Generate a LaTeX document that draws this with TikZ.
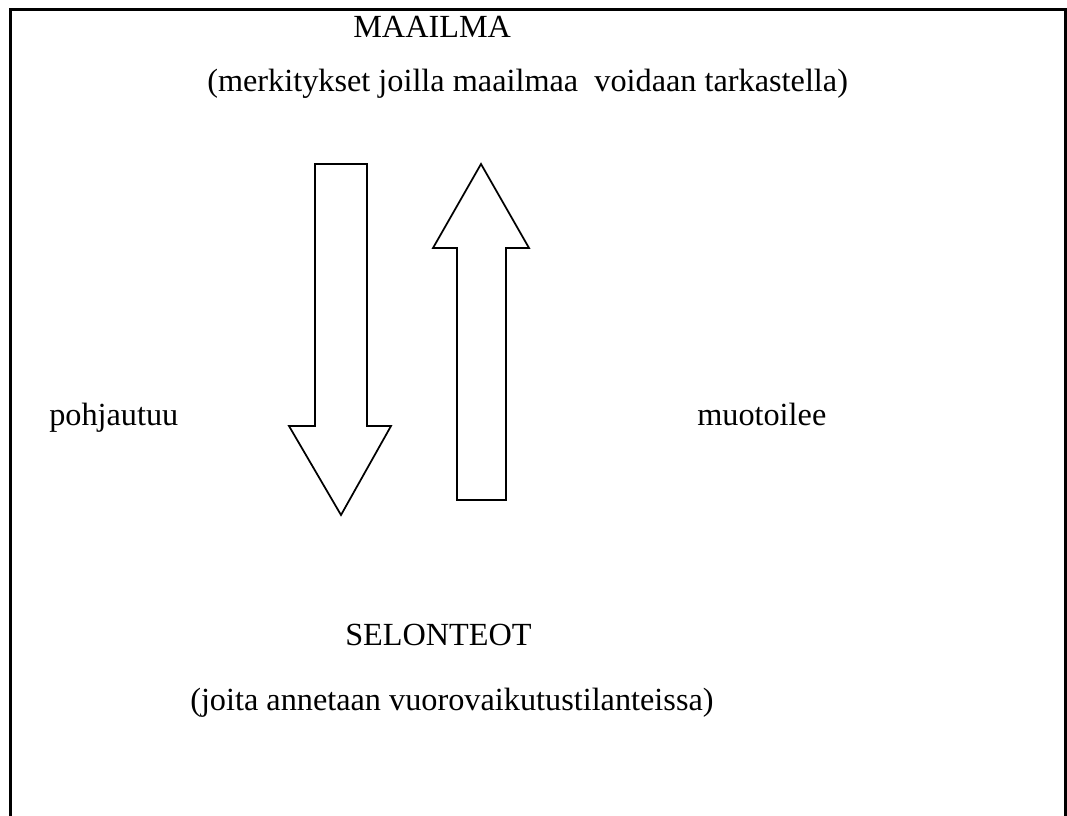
\documentclass[tikz,border=0pt]{standalone}
\usepackage{fontspec}
\setmainfont{Liberation Serif}
\begin{document}
\begin{tikzpicture}[x=0.75pt,y=-0.75pt,
  lbl/.style={anchor=base west,inner sep=0pt,font=\fontsize{24.2}{29}\selectfont},
  frameline/.style={line width=2.3pt},
  blockarrow/.style={line width=1.3pt,line join=miter,fill=white}]
\useasboundingbox[fill=white] (0,0) rectangle (1067,816);
\draw[frameline] (10.5,820) -- (10.5,9.5) -- (1065.5,9.5) -- (1065.5,820);
\node[lbl] (maailma) at (353,38) {MAAILMA};
\node[lbl] (merk) at (207,92) {(merkitykset joilla maailmaa\ \ voidaan tarkastella)};
\draw[blockarrow] (315,164) -- (367,164) -- (367,426) -- (391,426) -- (341,515) -- (289,426) -- (315,426) -- cycle;
\draw[blockarrow] (457,500) -- (506,500) -- (506,248) -- (529,248) -- (481,164) -- (433,248) -- (457,248) -- cycle;
\node[lbl] (pohj) at (49,426) {pohjautuu};
\node[lbl] (muot) at (697,426) {muotoilee};
\node[lbl] (selon) at (345,645) {SELONTEOT};
\node[lbl] (joita) at (190,710) {(joita annetaan vuorovaikutustilanteissa)};
\end{tikzpicture}
\end{document}
